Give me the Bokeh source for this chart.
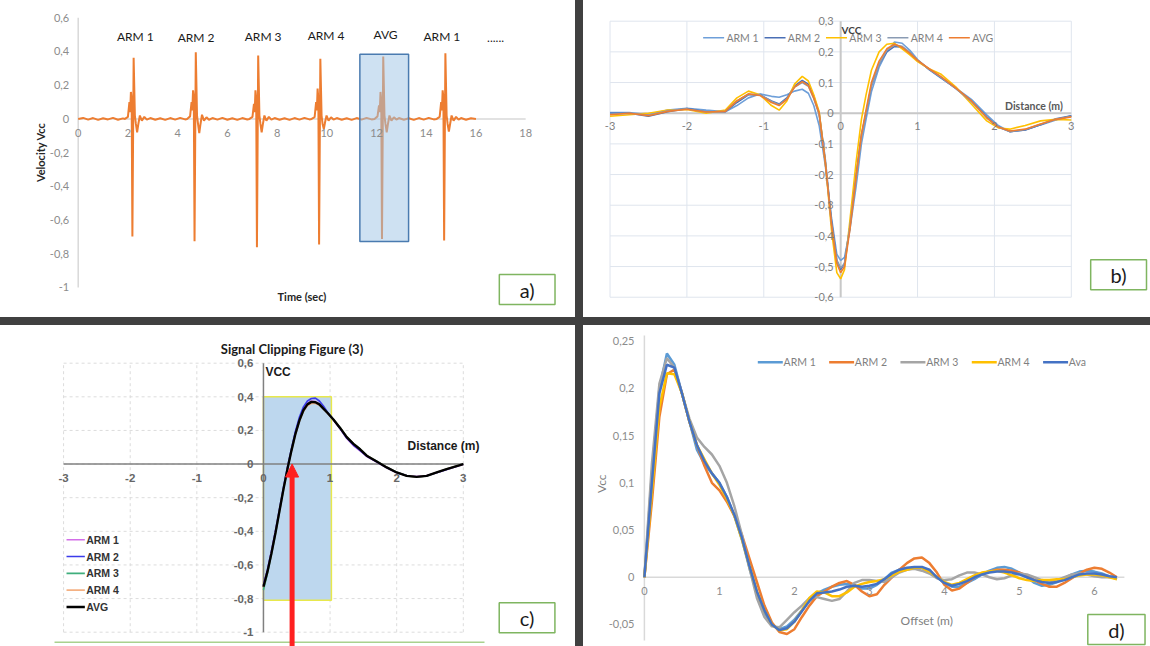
import math
from bokeh.plotting import figure
from bokeh.layouts import column, row
from bokeh.models import Range1d, Div, Arrow, NormalHead
from bokeh.core.properties import value
from bokeh.embed import file_html
from bokeh.resources import INLINE

# ---------------- DATA ----------------
# Panel a) raw trace
time_sec = [0.0, 0.2, 0.4, 0.6, 0.8, 1.0, 1.2, 1.4, 1.6, 1.8,
            1.88, 2.00, 2.06, 2.09, 2.12, 2.15, 2.18, 2.23, 2.28, 2.32, 2.37, 2.42, 2.48, 2.56, 2.66, 2.76,
            2.9, 3.1, 3.3, 3.5, 3.7, 3.9, 4.1, 4.3,
            4.38, 4.50, 4.56, 4.59, 4.62, 4.65, 4.68, 4.73, 4.78, 4.82, 4.87, 4.92, 4.98, 5.06, 5.16, 5.26,
            5.4, 5.6, 5.8, 6.0, 6.2, 6.4, 6.6, 6.8,
            6.89, 7.01, 7.07, 7.10, 7.13, 7.16, 7.19, 7.24, 7.29, 7.33, 7.38, 7.43, 7.49, 7.57, 7.67, 7.77,
            7.9, 8.1, 8.3, 8.5, 8.7, 8.9, 9.1, 9.3,
            9.39, 9.51, 9.57, 9.60, 9.63, 9.66, 9.69, 9.74, 9.79, 9.83, 9.88, 9.93, 9.99, 10.07, 10.17, 10.27,
            10.4, 10.6, 10.8, 11.0, 11.2, 11.4, 11.6, 11.8,
            11.92, 12.04, 12.10, 12.13, 12.16, 12.19, 12.22, 12.27, 12.32, 12.36, 12.41, 12.46, 12.52, 12.60, 12.70, 12.80,
            12.9, 13.1, 13.3, 13.5, 13.7, 13.9, 14.1, 14.3,
            14.42, 14.54, 14.60, 14.63, 14.66, 14.69, 14.72, 14.77, 14.82, 14.86, 14.91, 14.96, 15.02, 15.10, 15.20, 15.30,
            15.4, 15.6, 15.8, 16.0]
velocity_vcc = [0.0, 0.006, -0.004, 0.005, -0.006, 0.004, -0.003, 0.006, -0.005, 0.003,
                0.0, 0.012, 0.10, 0.04, 0.16, 0.12, -0.697, 0.363, 0.02, -0.03, -0.08, -0.03, 0.02, -0.01, 0.012, -0.004,
                0.005, -0.005, 0.004, -0.006, 0.005, -0.004, 0.006, -0.003,
                0.0, 0.015, 0.10, 0.05, 0.17, 0.13, -0.725, 0.396, 0.02, -0.03, -0.085, -0.03, 0.025, -0.01, 0.01, -0.005,
                0.005, -0.004, 0.006, -0.005, 0.004, -0.006, 0.005, -0.003,
                0.0, 0.012, 0.09, 0.04, 0.17, 0.12, -0.761, 0.376, 0.02, -0.03, -0.08, -0.03, 0.02, -0.01, 0.012, -0.004,
                0.005, -0.005, 0.004, -0.006, 0.005, -0.004, 0.006, -0.003,
                0.0, 0.01, 0.10, 0.05, 0.18, 0.12, -0.745, 0.357, 0.02, -0.03, -0.06, -0.02, 0.02, -0.01, 0.01, -0.004,
                0.005, -0.005, 0.004, -0.006, 0.005, -0.004, 0.006, -0.003,
                0.0, 0.015, 0.08, 0.04, 0.16, 0.11, -0.713, 0.37, 0.02, -0.03, -0.08, -0.03, 0.02, -0.01, 0.01, -0.004,
                0.005, -0.005, 0.004, -0.006, 0.005, -0.004, 0.006, -0.003,
                0.0, 0.012, 0.10, 0.05, 0.17, 0.13, -0.721, 0.39, 0.02, -0.03, -0.075, -0.03, 0.02, -0.01, 0.012, -0.004,
                0.005, -0.005, 0.004, 0.0]
a_x_ticks = [0, 2, 4, 6, 8, 10, 12, 14, 16, 18]
a_x_labels = ["0", "2", "4", "6", "8", "10", "12", "14", "16", "18"]
a_y_ticks = [0.6, 0.4, 0.2, 0.0, -0.2, -0.4, -0.6, -0.8, -1.0]
a_y_labels = ["0,6", "0,4", "0,2", "0", "-0,2", "-0,4", "-0,6", "-0,8", "-1"]
a_arm_names = ["ARM 1", "ARM 2", "ARM 3", "ARM 4", "AVG", "ARM 1", "......"]
a_arm_time = [2.30, 4.74, 7.44, 9.97, 12.36, 14.63, 16.79]
a_arm_level = [0.489, 0.485, 0.489, 0.492, 0.500, 0.489, 0.480]
a_window = [11.33, 13.29, -0.727, 0.384]   # left, right, bottom, top

# Panel b) aligned traces
b_names = ["ARM 1", "ARM 2", "ARM 3", "ARM 4", "AVG"]
b_dist = [-3.0, -2.75, -2.5, -2.25, -2.0, -1.75, -1.5, -1.35, -1.2, -1.05,
          -0.9, -0.8, -0.7, -0.6, -0.5, -0.42, -0.35, -0.28, -0.2, -0.12,
          -0.05, 0.0, 0.05, 0.12, 0.2, 0.27, 0.33, 0.4, 0.5, 0.6,
          0.7, 0.8, 0.9, 1.0, 1.15, 1.3, 1.5, 1.7, 1.9, 2.05,
          2.2, 2.4, 2.6, 2.8, 3.0]
b_arm1 = [0.002, 0.002, -0.005, 0.01, 0.016, 0.01, 0.005, 0.025, 0.05, 0.063,
          0.055, 0.052, 0.06, 0.072, 0.078, 0.065, 0.025, -0.04, -0.17, -0.34,
          -0.46, -0.48, -0.47, -0.38, -0.24, -0.1, -0.02, 0.07, 0.15, 0.2,
          0.232, 0.228, 0.205, 0.175, 0.142, 0.115, 0.082, 0.045, -0.005, -0.04,
          -0.06, -0.055, -0.038, -0.022, -0.008]
b_arm2 = [0.0, 0.0, -0.01, 0.005, 0.015, 0.005, 0.005, 0.035, 0.06, 0.06,
          0.04, 0.03, 0.05, 0.088, 0.107, 0.095, 0.055, 0.0, -0.15, -0.35,
          -0.48, -0.51, -0.49, -0.37, -0.2, -0.07, 0.0, 0.09, 0.16, 0.2,
          0.218, 0.215, 0.197, 0.172, 0.143, 0.117, 0.08, 0.04, -0.012, -0.045,
          -0.06, -0.055, -0.038, -0.018, -0.008]
b_arm3 = [-0.01, -0.005, 0.0, 0.01, 0.012, 0.0, 0.01, 0.05, 0.072, 0.06,
          0.025, 0.01, 0.04, 0.095, 0.12, 0.105, 0.06, 0.005, -0.16, -0.38,
          -0.52, -0.54, -0.51, -0.35, -0.16, -0.02, 0.06, 0.14, 0.2, 0.225,
          0.228, 0.21, 0.19, 0.168, 0.145, 0.128, 0.085, 0.03, -0.025, -0.048,
          -0.052, -0.04, -0.025, -0.02, -0.022]
b_arm4 = [-0.003, 0.0, -0.006, 0.008, 0.014, 0.004, 0.006, 0.04, 0.062, 0.06,
          0.038, 0.028, 0.047, 0.085, 0.1, 0.088, 0.048, -0.005, -0.16, -0.36,
          -0.48, -0.505, -0.49, -0.37, -0.21, -0.08, 0.0, 0.09, 0.16, 0.205,
          0.222, 0.218, 0.198, 0.173, 0.144, 0.118, 0.08, 0.038, -0.015, -0.045,
          -0.06, -0.053, -0.036, -0.02, -0.01]
b_avg = [-0.005, 0.0, -0.008, 0.006, 0.013, 0.004, 0.006, 0.04, 0.063, 0.058,
         0.035, 0.025, 0.045, 0.085, 0.103, 0.09, 0.05, 0.0, -0.16, -0.36,
         -0.49, -0.52, -0.5, -0.38, -0.21, -0.07, 0.01, 0.1, 0.17, 0.21,
         0.225, 0.215, 0.195, 0.172, 0.145, 0.12, 0.082, 0.04, -0.015, -0.045,
         -0.058, -0.052, -0.035, -0.02, -0.012]
b_x_ticks = [-3, -2, -1, 0, 1, 2, 3]
b_x_labels = ["-3", "-2", "-1", "0", "1", "2", "3"]
b_y_ticks = [0.3, 0.2, 0.1, 0.0, -0.1, -0.2, -0.3, -0.4, -0.5, -0.6]
b_y_labels = ["0,3", "0,2", "0,1", "0", "-0,1", "-0,2", "-0,3", "-0,4", "-0,5", "-0,6"]

# Panel c) clipped signal
c_names = ["ARM 1", "ARM 2", "ARM 3", "ARM 4", "AVG"]
c_dist = [0.0, 0.06, 0.12, 0.18, 0.24, 0.3, 0.36, 0.42, 0.48, 0.54, 0.6,
          0.66, 0.72, 0.78, 0.84, 0.9, 0.96, 1.05, 1.15, 1.25, 1.35, 1.45,
          1.55, 1.7, 1.85, 2.0, 2.15, 2.3, 2.45, 2.6, 2.75, 2.9, 3.0]
c_arm1 = [-0.72, -0.63, -0.52, -0.40, -0.275, -0.145, -0.025, 0.085, 0.185, 0.265, 0.325,
          0.36, 0.375, 0.372, 0.358, 0.332, 0.305, 0.262, 0.21, 0.152, 0.11, 0.078,
          0.045, 0.012, -0.022, -0.052, -0.07, -0.074, -0.068, -0.052, -0.032, -0.014, -0.002]
c_arm2 = [-0.72, -0.63, -0.52, -0.40, -0.27, -0.14, -0.02, 0.09, 0.195, 0.28, 0.34,
          0.375, 0.39, 0.392, 0.375, 0.345, 0.31, 0.265, 0.212, 0.155, 0.113, 0.082,
          0.047, 0.013, -0.021, -0.05, -0.068, -0.075, -0.07, -0.052, -0.032, -0.013, 0.0]
c_arm3 = [-0.75, -0.65, -0.535, -0.415, -0.285, -0.152, -0.032, 0.078, 0.178, 0.258, 0.317,
          0.352, 0.365, 0.364, 0.352, 0.33, 0.305, 0.266, 0.218, 0.163, 0.123, 0.09,
          0.052, 0.017, -0.018, -0.049, -0.07, -0.077, -0.071, -0.05, -0.03, -0.011, 0.001]
c_arm4 = [-0.73, -0.64, -0.53, -0.41, -0.28, -0.15, -0.03, 0.078, 0.176, 0.255, 0.313,
          0.347, 0.36, 0.36, 0.35, 0.328, 0.303, 0.265, 0.216, 0.162, 0.122, 0.089,
          0.051, 0.016, -0.019, -0.05, -0.07, -0.076, -0.07, -0.05, -0.03, -0.012, 0.0]
c_avg = [-0.73, -0.64, -0.53, -0.41, -0.28, -0.15, -0.03, 0.08, 0.18, 0.26, 0.32,
         0.355, 0.37, 0.368, 0.355, 0.33, 0.305, 0.265, 0.215, 0.16, 0.12, 0.088,
         0.05, 0.015, -0.02, -0.05, -0.07, -0.076, -0.07, -0.05, -0.03, -0.012, 0.0]
c_x_ticks = [-3, -2, -1, 0, 1, 2, 3]
c_x_labels = ["-3", "-2", "-1", "0", "1", "2", "3"]
c_y_ticks = [0.6, 0.4, 0.2, 0.0, -0.2, -0.4, -0.6, -0.8, -1.0]
c_y_labels = ["0,6", "0,4", "0,2", "0", "-0,2", "-0,4", "-0,6", "-0,8", "-1"]
c_window = [0.0, 1.02, -0.81, 0.40]   # left, right, bottom, top
c_arrow_x = 0.43

# Panel d) offset traces
d_names = ["ARM 1", "ARM 2", "ARM 3", "ARM 4", "Ava"]
d_offset = [0.0, 0.1, 0.2, 0.3, 0.4, 0.5, 0.6, 0.7, 0.8, 0.9,
            1.0, 1.1, 1.2, 1.3, 1.4, 1.5, 1.6, 1.7, 1.8, 1.9,
            2.0, 2.1, 2.2, 2.3, 2.4, 2.5, 2.6, 2.7, 2.8, 2.9,
            3.0, 3.1, 3.2, 3.3, 3.4, 3.5, 3.6, 3.7, 3.8, 3.9,
            4.0, 4.1, 4.2, 4.3, 4.4, 4.5, 4.6, 4.7, 4.8, 4.9,
            5.0, 5.1, 5.2, 5.3, 5.4, 5.5, 5.6, 5.7, 5.8, 5.9,
            6.0, 6.1, 6.2, 6.3]
d_arm1 = [0.0, 0.11, 0.2, 0.237, 0.225, 0.195, 0.165, 0.135, 0.12, 0.11,
          0.1, 0.085, 0.065, 0.04, 0.01, -0.018, -0.038, -0.05, -0.055, -0.052,
          -0.045, -0.035, -0.025, -0.017, -0.013, -0.01, -0.008, -0.007, -0.008, -0.012,
          -0.012, -0.008, -0.002, 0.005, 0.008, 0.009, 0.01, 0.01, 0.006, 0.0,
          -0.006, -0.01, -0.01, -0.006, -0.002, 0.003, 0.007, 0.01, 0.011, 0.009,
          0.005, 0.0, -0.006, -0.009, -0.008, -0.005, -0.001, 0.003, 0.006, 0.007,
          0.006, 0.004, 0.001, -0.002]
d_arm2 = [0.0, 0.08, 0.17, 0.215, 0.22, 0.195, 0.165, 0.14, 0.118, 0.1,
          0.092, 0.08, 0.065, 0.045, 0.02, -0.005, -0.03, -0.048, -0.058, -0.06,
          -0.055, -0.042, -0.03, -0.02, -0.015, -0.01, -0.006, -0.004, -0.008, -0.015,
          -0.02, -0.018, -0.008, 0.0, 0.008, 0.015, 0.02, 0.021, 0.015, 0.005,
          -0.008, -0.014, -0.012, -0.006, 0.0, 0.004, 0.006, 0.008, 0.008, 0.007,
          0.005, 0.002, -0.003, -0.007, -0.01, -0.01, -0.006, -0.001, 0.004, 0.008,
          0.01, 0.009, 0.005, 0.0]
d_arm3 = [0.0, 0.12, 0.205, 0.232, 0.222, 0.195, 0.168, 0.148, 0.138, 0.13,
          0.118, 0.1, 0.075, 0.045, 0.01, -0.022, -0.042, -0.052, -0.053, -0.045,
          -0.037, -0.03, -0.022, -0.021, -0.023, -0.025, -0.023, -0.015, -0.006, -0.003,
          -0.003, -0.004, -0.005, 0.0, 0.005, 0.008, 0.009, 0.007, 0.004, -0.001,
          -0.003, -0.002, 0.002, 0.005, 0.005, 0.003, 0.0, -0.002, -0.001, 0.002,
          0.004, 0.003, 0.0, -0.003, -0.004, -0.003, 0.0, 0.003, 0.004, 0.003,
          0.001, 0.0, 0.0, 0.0]
d_arm4 = [0.0, 0.09, 0.18, 0.216, 0.215, 0.195, 0.165, 0.14, 0.125, 0.11,
          0.098, 0.083, 0.065, 0.04, 0.012, -0.015, -0.035, -0.05, -0.056, -0.055,
          -0.047, -0.035, -0.022, -0.015, -0.016, -0.02, -0.02, -0.016, -0.01, -0.007,
          -0.005, -0.004, -0.002, 0.002, 0.006, 0.008, 0.01, 0.01, 0.006, 0.0,
          -0.005, -0.008, -0.006, -0.002, 0.002, 0.005, 0.006, 0.007, 0.005, 0.002,
          -0.001, -0.003, -0.004, -0.003, -0.003, -0.002, -0.002, 0.0, 0.002, 0.003,
          0.003, 0.002, 0.0, -0.002]
d_ava = [0.0, 0.1, 0.195, 0.225, 0.222, 0.195, 0.165, 0.14, 0.123, 0.11,
         0.1, 0.085, 0.066, 0.042, 0.012, -0.015, -0.035, -0.05, -0.056, -0.054,
         -0.047, -0.036, -0.025, -0.017, -0.016, -0.015, -0.013, -0.01, -0.009, -0.01,
         -0.009, -0.007, -0.002, 0.004, 0.008, 0.01, 0.011, 0.011, 0.008, 0.0,
         -0.006, -0.009, -0.007, -0.004, 0.0, 0.003, 0.005, 0.006, 0.006, 0.005,
         0.003, 0.0, -0.003, -0.005, -0.006, -0.005, -0.003, 0.0, 0.003, 0.004,
         0.004, 0.003, 0.001, 0.0]
d_x_ticks = [0, 1, 2, 3, 4, 5, 6]
d_x_labels = ["0", "1", "2", "3", "4", "5", "6"]
d_y_ticks = [0.25, 0.2, 0.15, 0.1, 0.05, 0.0, -0.05]
d_y_labels = ["0,25", "0,2", "0,15", "0,1", "0,05", "0", "-0,05"]

# ---------------- STYLE / LAYOUT ----------------
DARK = "#404040"
W_L, W_R, H_T, H_B, SEP = 575, 567, 317, 321, 8
GREEN = "#7fb560"


def panel(w, h, xr, yr):
    p = figure(width=w, height=h, x_range=Range1d(*xr), y_range=Range1d(*yr),
               output_backend="svg", toolbar_location=None,
               x_axis_location=None, y_axis_location=None, min_border=0)
    p.xgrid.visible = False
    p.ygrid.visible = False
    p.outline_line_color = None
    p.background_fill_color = "white"
    p.border_fill_color = "white"
    return p


def txt(p, x, y, t, size, color, font="Lato", style="normal", align="center",
        baseline="middle", xo=0, yo=0, angle=0.0):
    p.text(x=x, y=y, text=t, text_font=value(font), text_font_size=value(size),
           text_color=color, text_font_style=style, text_align=align,
           text_baseline=baseline, x_offset=xo, y_offset=yo, angle=angle)


def tag(p, left, right, bottom, top, label):
    p.quad(left=[left], right=[right], bottom=[bottom], top=[top],
           fill_color="white", line_color=GREEN, line_width=1.5)
    txt(p, [(left + right) / 2], [(bottom + top) / 2], [label], "20px", "#1a1a1a",
        font="Lato")


# ---------- panel a ----------
pa = panel(W_L, H_T, (-3.1255, 20.004), (-1.178, 0.7024))
pa.segment(x0=[a_x_ticks[0]], x1=[a_x_ticks[-1]], y0=[0], y1=[0], line_color="#d9d9d9", line_width=1.5)
pa.segment(x0=[0], x1=[0], y0=[a_y_ticks[-1]], y1=[a_y_ticks[0]], line_color="#d9d9d9", line_width=1.5)
pa.line(time_sec, velocity_vcc, line_color="#ed7d31", line_width=2)
pa.quad(left=[a_window[0]], right=[a_window[1]], bottom=[a_window[2]], top=[a_window[3]],
        fill_color="#9dc3e6", fill_alpha=0.5, line_color="#4a7bb0", line_width=1.5)
txt(pa, a_x_ticks, [0] * len(a_x_ticks), a_x_labels, "11px", "#8c8c8c", yo=14)
txt(pa, [0] * len(a_y_ticks), a_y_ticks, a_y_labels, "11px", "#8c8c8c", align="right", xo=-9)
txt(pa, a_arm_time, a_arm_level, a_arm_names, "12px", "#1a1a1a")
txt(pa, [-1.5], [-0.198], ["Velocity Vcc"], "11px", "#262626", style="bold", angle=math.pi / 2)
txt(pa, [9.0], [-1.054], ["Time (sec)"], "11px", "#262626", style="bold")
tag(pa, 16.94, 19.18, -1.101, -0.923, "a)")

# ---------- panel b ----------
pb = panel(W_R, H_T, (-3.345, 4.030), (-0.6661, 0.3675))
pb.segment(x0=b_x_ticks, x1=b_x_ticks, y0=[b_y_ticks[-1]] * len(b_x_ticks),
           y1=[b_y_ticks[0]] * len(b_x_ticks), line_color="#dfe5ee", line_width=1)
pb.segment(x0=[b_x_ticks[0]] * len(b_y_ticks), x1=[b_x_ticks[-1]] * len(b_y_ticks),
           y0=b_y_ticks, y1=b_y_ticks, line_color="#dfe5ee", line_width=1)
pb.segment(x0=[b_x_ticks[0]], x1=[b_x_ticks[-1]], y0=[0], y1=[0], line_color="#c8c8c8", line_width=2)
pb.segment(x0=[0], x1=[0], y0=[b_y_ticks[-1]], y1=[b_y_ticks[0]], line_color="#c8c8c8", line_width=2)
b_series = [b_arm1, b_arm2, b_arm3, b_arm4, b_avg]
b_colors = ["#6e9fd9", "#4a6fb5", "#ffc000", "#8a9bb3", "#ed7d31"]
for ys, col in zip(b_series, b_colors):
    pb.line(b_dist, ys, line_color=col, line_width=1.6)
txt(pb, b_x_ticks, [0] * len(b_x_ticks), b_x_labels, "11px", "#7f7f7f", yo=13)
txt(pb, [0] * len(b_y_ticks), b_y_ticks, b_y_labels, "11px", "#7f7f7f", align="right", xo=-7)
txt(pb, [0.139], [0.272], ["VCC"], "10px", "#404040", style="bold")
txt(pb, [2.514], [0.024], ["Distance (m)"], "10.5px", "#595959", style="bold")
b_leg_x0, b_leg_pitch, b_leg_len, b_leg_y = -1.789, 0.799, 0.273, 0.2458
bx0 = [b_leg_x0 + i * b_leg_pitch for i in range(len(b_names))]
pb.segment(x0=bx0, x1=[x + b_leg_len for x in bx0], y0=[b_leg_y] * 5, y1=[b_leg_y] * 5,
           line_color=b_colors, line_width=1.6)
txt(pb, [x + b_leg_len + 0.03 for x in bx0], [b_leg_y] * 5, b_names, "10.5px", "#7f7f7f", align="left")
tag(pb, 3.252, 3.978, -0.5758, -0.478, "b)")

# ---------- panel c ----------
pc = panel(W_L, H_B, (-3.947, 4.684), (-1.0851, 0.8242))
pc.segment(x0=c_x_ticks, x1=c_x_ticks, y0=[c_y_ticks[-1]] * len(c_x_ticks),
           y1=[c_y_ticks[0]] * len(c_x_ticks), line_color="#dcdcdc", line_width=1, line_dash="3 3")
pc.segment(x0=[c_x_ticks[0]] * len(c_y_ticks), x1=[c_x_ticks[-1]] * len(c_y_ticks),
           y0=c_y_ticks, y1=c_y_ticks, line_color="#dcdcdc", line_width=1, line_dash="3 3")
pc.quad(left=[c_window[0]], right=[c_window[1]], bottom=[c_window[2]], top=[c_window[3]],
        fill_color="#bdd7ee", line_color="#e8e84c", line_width=1.5)
pc.segment(x0=[c_x_ticks[0]], x1=[c_x_ticks[-1]], y0=[0], y1=[0], line_color="#808080", line_width=1.5)
pc.segment(x0=[0], x1=[0], y0=[c_y_ticks[-1]], y1=[c_y_ticks[0]], line_color="#808080", line_width=1.5)
pc.segment(x0=[-3.136], x1=[3.318], y0=[-1.0595], y1=[-1.0595], line_color="#a9d18e", line_width=1.5)
c_series = [c_arm1, c_arm2, c_arm3, c_arm4, c_avg]
c_colors = ["#d36ee8", "#3b3bea", "#3fae7c", "#f4b183", "#000000"]
c_widths = [1.6, 1.6, 1.6, 1.6, 2.4]
for ys, col, lw in zip(c_series, c_colors, c_widths):
    pc.line(c_dist, ys, line_color=col, line_width=lw)
pc.add_layout(Arrow(x_start=c_arrow_x, y_start=-1.2, x_end=c_arrow_x, y_end=0.0,
                    line_color="#ff2020", line_width=5,
                    end=NormalHead(size=13, fill_color="#ff2020", line_color="#ff2020")))
txt(pc, c_x_ticks, [0] * len(c_x_ticks), c_x_labels, "11.5px", "#666666",
    font="Liberation Sans", style="bold", yo=14)
txt(pc, [0] * len(c_y_ticks), c_y_ticks, c_y_labels, "11.5px", "#666666",
    font="Liberation Sans", style="bold", align="right", xo=-10)
txt(pc, [0.4286], [0.6856], ["Signal Clipping Figure (3)"], "13px", "#1a1a1a", style="bold")
txt(pc, [0.22], [0.5465], ["VCC"], "12px", "#1a1a1a", font="Liberation Sans", style="bold")
txt(pc, [2.703], [0.1045], ["Distance (m)"], "12px", "#1a1a1a", font="Liberation Sans", style="bold")
c_leg_x0, c_leg_x1, c_leg_y0, c_leg_pitch = -2.956, -2.681, -0.45, 0.1
cy = [c_leg_y0 - i * c_leg_pitch for i in range(len(c_names))]
pc.segment(x0=[c_leg_x0] * 5, x1=[c_leg_x1] * 5, y0=cy, y1=cy, line_color=c_colors, line_width=c_widths)
txt(pc, [c_leg_x1 + 0.02] * 5, cy, c_names, "10.5px", "#333333", font="Liberation Sans",
    style="bold", align="left")
tag(pc, 3.539, 4.375, -1.0036, -0.8251, "c)")

# ---------- panel d ----------
pd_ = panel(W_R, H_B, (-0.812, 6.748), (-0.0733, 0.2666))
pd_.segment(x0=[0], x1=[6.4], y0=[0], y1=[0], line_color="#d9d9d9", line_width=1.5)
pd_.segment(x0=[0], x1=[0], y0=[-0.067], y1=[0.256], line_color="#d9d9d9", line_width=1.5)
d_series = [d_arm1, d_arm2, d_arm3, d_arm4, d_ava]
d_colors = ["#5b9bd5", "#ed7d31", "#a5a5a5", "#ffc000", "#4472c4"]
for ys, col in zip(d_series, d_colors):
    pd_.line(d_offset, ys, line_color=col, line_width=2.5)
txt(pd_, d_x_ticks, [0] * len(d_x_ticks), d_x_labels, "11px", "#8c8c8c", yo=14)
txt(pd_, [0] * len(d_y_ticks), d_y_ticks, d_y_labels, "11px", "#8c8c8c", align="right", xo=-10)
txt(pd_, [-0.576], [0.099], ["Vcc"], "12px", "#7f7f7f", angle=math.pi / 2)
txt(pd_, [3.765], [-0.0458], ["Offset (m)"], "12px", "#7f7f7f")
d_leg_x0, d_leg_pitch, d_leg_len, d_leg_y = 1.512, 0.951, 0.333, 0.2278
dx0 = [d_leg_x0 + i * d_leg_pitch for i in range(len(d_names))]
pd_.segment(x0=dx0, x1=[x + d_leg_len for x in dx0], y0=[d_leg_y] * 5, y1=[d_leg_y] * 5,
            line_color=d_colors, line_width=2.5)
txt(pd_, [x + d_leg_len + 0.01 for x in dx0], [d_leg_y] * 5, d_names, "10.5px", "#7f7f7f", align="left")
tag(pd_, 5.912, 6.675, -0.0712, -0.0394, "d)")


def sep(w, h):
    return Div(text="", width=w, height=h, margin=0,
               styles={"background-color": DARK})


layout = column(
    row(pa, sep(SEP, H_T), pb, spacing=0),
    sep(W_L + SEP + W_R, SEP),
    row(pc, sep(SEP, H_B), pd_, spacing=0),
    spacing=0,
)

open("out.html", "w").write(file_html(layout, INLINE))
